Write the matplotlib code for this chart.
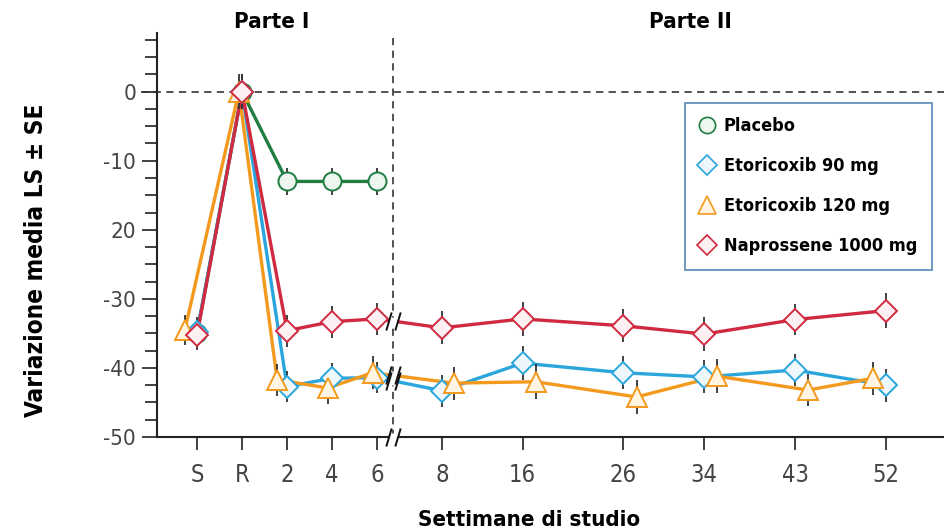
import numpy as np
import matplotlib
matplotlib.use('Agg')
import matplotlib.pyplot as plt
from matplotlib.path import Path
from matplotlib.lines import Line2D

# ---- font setup: DejaVu Sans Condensed ----
plt.rcParams['font.family'] = ['DejaVu Sans']
plt.rcParams['font.stretch'] = 'condensed'

# ---- data ----
tick_labels = ['S', 'R', '2', '4', '6', '8', '16', '26', '34', '43', '52']
weeks_part2 = [8, 16, 26, 34, 43, 52]

placebo = [-35.0, 0.0, -13.0, -13.0, -13.0]
etori90 = [-34.8, 0.0, -42.7, -41.5, -41.4, -43.3, -39.3, -40.7, -41.3, -40.3, -42.5]
etori120 = [-34.5, 0.0, -41.7, -42.9, -40.7, -42.2, -42.0, -44.2, -41.2, -43.2, -41.5]
naproxen = [-35.2, 0.0, -34.6, -33.3, -32.9, -34.2, -32.9, -33.9, -35.1, -33.0, -31.7]

se_placebo = [2.0, 2.5, 2.0, 2.0, 2.0]
se_etori90 = [2.2, 2.5, 2.2, 2.2, 2.2, 2.3, 2.5, 2.4, 2.4, 2.3, 2.4]
se_etori120 = [2.2, 2.5, 2.3, 2.3, 2.4, 2.4, 2.5, 2.4, 2.5, 2.3, 2.4]
se_naproxen = [2.2, 2.5, 2.3, 2.3, 2.3, 2.4, 2.5, 2.4, 2.5, 2.3, 2.5]

# small horizontal jitter of the orange series (as in the original)
jitter_120 = [-0.27, -0.07, -0.22, -0.1, -0.1, 0.27, 0.29, 0.29, 0.29, 0.29, -0.29]

# ---- x scale: Parte I categorical, Parte II proportional to weeks ----
x_part1 = np.arange(5)
x_part2 = 5.44 + (np.array(weeks_part2) - 8) * 0.2243
x_all = np.concatenate([x_part1, x_part2])
x_break = 4.36

fig = plt.figure(figsize=(9.44, 5.31), dpi=100)
ax = fig.add_axes([0.1663, 0.177, 0.8337, 0.761])

series = [
    ('Placebo', placebo, se_placebo, np.zeros(5), '#1f7d42', '#eef7ef', 'o', 13),
    ('Etoricoxib 90 mg', etori90, se_etori90, np.zeros(11), '#2aa6dc', '#eef8fc', 'D', 11),
    ('Etoricoxib 120 mg', etori120, se_etori120, np.array(jitter_120), '#f39a1e', '#fff5e2', '^', 14),
    ('Naprossene 1000 mg', naproxen, se_naproxen, np.zeros(11), '#cf2a40', '#fdf0f2', 'D', 11),
]

# ---- reference lines ----
ax.axhline(0, color='#444444', lw=1.3, ls=(0, (4, 3)), zorder=1, xmin=-0.02, clip_on=False)
ax.axvline(x_break, color='#444444', lw=1.3, ls=(0, (4, 3)), zorder=1)

# ---- series ----
for name, vals, se, jit, col, face, mk, ms in series:
    xs = x_all[:len(vals)] + jit
    ax.plot(xs, vals, color=col, lw=2.4, zorder=3, solid_joinstyle='round')
    ax.errorbar(xs, vals, yerr=se, fmt='none', ecolor='#333333', elinewidth=1.3, capsize=0, zorder=4)
    ax.plot(xs, vals, ls='none', marker=mk, ms=ms, mfc=face, mec=col, mew=1.4, zorder=5)

# ---- break marks "//" ----
slash = Path([(-0.8, -1), (-0.2, 1), (0.2, -1), (0.8, 1)],
             [Path.MOVETO, Path.LINETO, Path.MOVETO, Path.LINETO])
break_y = [-50.0]
for vals in (naproxen, etori90, etori120):
    break_y.append(np.interp(x_break, [x_all[4], x_all[5]], [vals[4], vals[5]]))
ax.plot([x_break] * len(break_y), break_y, ls='none', marker='s', ms=6, mfc='white', mec='none', zorder=6, clip_on=False)
ax.plot([x_break] * len(break_y), break_y, ls='none', marker=slash, ms=13, mec='#111111', mew=1.4, zorder=7, clip_on=False)

# ---- axes ----
ax.set_xlim(-0.89, 16.6)
ax.set_ylim(-50, 8.5)
ax.set_xticks(x_all)
ax.set_xticklabels(tick_labels)
ax.set_yticks([0, -10, -20, -30, -40, -50])
ax.set_yticklabels(['0', '-10', '20', '-30', '-40', '-50'])
ax.set_yticks(np.arange(-47.5, 8, 2.5), minor=True)
for s in ('top', 'right'):
    ax.spines[s].set_visible(False)
for s in ('left', 'bottom'):
    ax.spines[s].set_linewidth(1.5)
    ax.spines[s].set_color('#222222')
ax.tick_params(axis='y', which='major', length=11, width=1.3, color='#333333', labelsize=16, labelcolor='#444444', pad=4)
ax.tick_params(axis='y', which='minor', length=9, width=1.3, color='#333333')
ax.tick_params(axis='x', which='major', length=9, width=1.3, color='#333333', labelsize=17, labelcolor='#444444', pad=10)

# ---- labels and titles ----
fig.text(36 / 944, 1 - 260 / 531, 'Variazione media LS ± SE', fontsize=17.5, fontweight='bold',
         rotation=90, ha='center', va='center')
fig.text(529 / 944, 1 - 520 / 531, 'Settimane di studio', fontsize=16, fontweight='bold',
         ha='center', va='center')
fig.text(0.288, 0.958, 'Parte I', fontsize=16, fontweight='bold', ha='center', va='center')
fig.text(0.731, 0.958, 'Parte II', fontsize=16, fontweight='bold', ha='center', va='center')

# ---- legend ----
handles = [Line2D([], [], ls='none', marker=mk, ms=ms * 0.9, mfc=face, mec=col, mew=1.2)
           for name, vals, se, jit, col, face, mk, ms in series]
leg = ax.legend(handles, [s[0] for s in series], loc='upper left', bbox_to_anchor=(0.671, 0.827),
                prop={'weight': 'bold', 'size': 13, 'stretch': 'condensed'}, frameon=True, fancybox=False,
                edgecolor='#4a7fb0', labelspacing=1.22, handletextpad=0.55, handlelength=0.8,
                borderpad=0.8, borderaxespad=0)
leg.get_frame().set_linewidth(1.4)

fig.savefig('out.png', dpi=100)
